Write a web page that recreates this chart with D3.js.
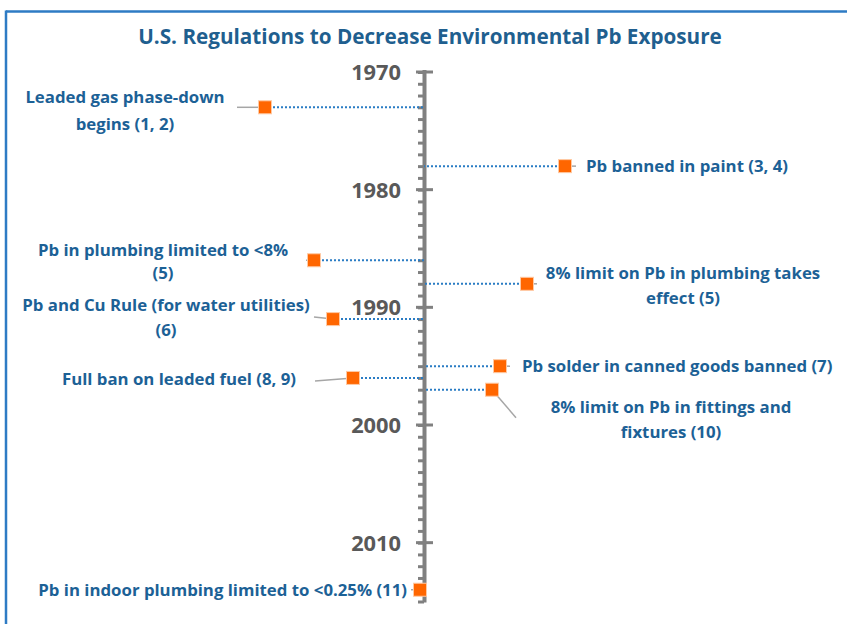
<!DOCTYPE html>
<html>
<head>
<meta charset="utf-8">
<script src="https://cdn.jsdelivr.net/npm/d3@7/dist/d3.min.js"></script>
<style>
html,body{margin:0;padding:0;background:#fff;}
svg{display:block;}
text{font-family:"Open Sans",Lato,sans-serif;font-weight:bold;}
</style>
</head>
<body>
<svg id="chart" width="847" height="624"></svg>
<script>
// ---- data ----
const title = "U.S. Regulations to Decrease Environmental Pb Exposure";
const eventYears = [1973, 1978, 1986, 1988, 1991, 1995, 1996, 1997, 2014];
const eventOffsets = [-159, 141, -110, 103, -91, 76, -71, 68, -4];
const eventLabels = [
  ["Leaded gas phase-down", "begins (1, 2)"],
  ["Pb banned in paint (3, 4)"],
  ["Pb in plumbing limited to <8%", "(5)"],
  ["8% limit on Pb in plumbing takes", "effect (5)"],
  ["Pb and Cu Rule (for water utilities)", "(6)"],
  ["Pb solder in canned goods banned (7)"],
  ["Full ban on leaded fuel (8, 9)"],
  ["8% limit on Pb in fittings and", "fixtures (10)"],
  ["Pb in indoor plumbing limited to <0.25% (11)"]
];
const yearDomain = [1970, 2015];
const majorTicks = [1970, 1980, 1990, 2000, 2010];

// ---- layout (label placement relative to marker) ----
const layout = [
  {lx:-140, ly:-10, lh:27, anchor:"middle", leader:[-28, 0]},
  {lx: 21,  ly:0,   lh:25, anchor:"start",  leader:[11, 0]},
  {lx:-151, ly:-10, lh:23, anchor:"middle", leader:[-8, 0]},
  {lx: 156, ly:-11, lh:25, anchor:"middle", leader:[10, 0]},
  {lx:-167, ly:-14, lh:25, anchor:"middle", leader:[-19, -2]},
  {lx: 22,  ly:0,   lh:25, anchor:"start",  leader:[10, 0]},
  {lx:-174, ly:1,   lh:25, anchor:"middle", leader:[-38, 3]},
  {lx: 179, ly:17,  lh:25, anchor:"middle", leader:[24, 28]},
  {lx:-13,  ly:0,   lh:25, anchor:"end",    leader:[-9, 0]}
];

const svg = d3.select("#chart");
const W = 847, H = 624;
const axisX = 424;

const y = d3.scaleLinear().domain(yearDomain).range([72, 601.5]);
const x = d3.scaleLinear().domain([-200, 200]).range([axisX - 200, axisX + 200]);

// frame
svg.append("line").attr("x1", 6).attr("x2", W).attr("y1", 11.5).attr("y2", 11.5)
  .attr("stroke", "#2e7bc4").attr("stroke-width", 2.5);
svg.append("line").attr("x1", 6).attr("x2", 6).attr("y1", 10.5).attr("y2", H)
  .attr("stroke", "#2e7bc4").attr("stroke-width", 2.5);

// title
svg.append("text").attr("x", 430).attr("y", 44).attr("text-anchor", "middle")
  .attr("font-size", 20.7).attr("fill", "#1f5f8f").text(title);

// axis: minor ticks every year
const minor = d3.axisLeft(y).tickValues(d3.range(yearDomain[0], yearDomain[1] + 1))
  .tickSize(6).tickFormat("");
const gAxis = svg.append("g").attr("transform", `translate(${axisX},0)`).call(minor);
gAxis.select(".domain").remove();
gAxis.selectAll(".tick line").attr("stroke", "#808080").attr("stroke-width", 3);

// axis line
svg.append("line").attr("x1", axisX + 0.5).attr("x2", axisX + 0.5)
  .attr("y1", y(yearDomain[0]) - 2).attr("y2", y(yearDomain[1]) + 1)
  .attr("stroke", "#808080").attr("stroke-width", 4);

// major ticks
svg.append("g").selectAll("line").data(majorTicks).join("line")
  .attr("x1", axisX - 8).attr("x2", axisX + 9)
  .attr("y1", d => y(d)).attr("y2", d => y(d))
  .attr("stroke", "#808080").attr("stroke-width", 3);
svg.append("g").selectAll("text").data(majorTicks).join("text")
  .attr("x", 401).attr("y", d => y(d)).attr("dy", "0.36em")
  .attr("text-anchor", "end").attr("font-size", 21.8).attr("fill", "#595959")
  .text(d => d);

const events = eventYears.map((yr, i) => ({yr, off: eventOffsets[i], lines: eventLabels[i], lay: layout[i]}));

// dotted connectors to axis
svg.append("g").selectAll("line").data(events).join("line")
  .attr("x1", d => x(d.off)).attr("x2", axisX)
  .attr("y1", d => y(d.yr)).attr("y2", d => y(d.yr))
  .attr("stroke", "#2a7cc4").attr("stroke-width", 2).attr("stroke-dasharray", "2,2");

// leader lines
svg.append("g").selectAll("line").data(events).join("line")
  .attr("x1", d => x(d.off)).attr("y1", d => y(d.yr))
  .attr("x2", d => x(d.off) + d.lay.leader[0]).attr("y2", d => y(d.yr) + d.lay.leader[1])
  .attr("stroke", "#a6a6a6").attr("stroke-width", 1.5);

// markers
const ms = 13;
svg.append("g").selectAll("rect").data(events).join("rect")
  .attr("x", d => x(d.off) - ms / 2).attr("y", d => y(d.yr) - ms / 2)
  .attr("width", ms).attr("height", ms)
  .attr("fill", "#ff6600").attr("stroke", "#ffc9a3").attr("stroke-width", 1);

// labels
const gl = svg.append("g").selectAll("text").data(events).join("text")
  .attr("x", d => x(d.off) + d.lay.lx)
  .attr("y", d => y(d.yr) + d.lay.ly)
  .attr("text-anchor", d => d.lay.anchor)
  .attr("font-size", 16.8).attr("fill", "#1c6196");
gl.selectAll("tspan").data(d => d.lines.map(t => ({t, d}))).join("tspan")
  .attr("x", o => x(o.d.off) + o.d.lay.lx)
  .attr("dy", (o, i) => i === 0 ? "0.35em" : o.d.lay.lh)
  .text(o => o.t);
</script>
</body>
</html>
